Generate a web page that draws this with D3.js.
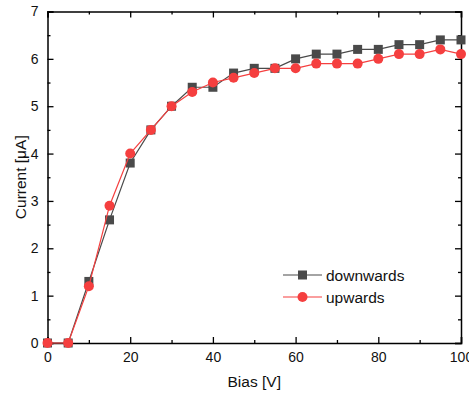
<!DOCTYPE html>
<html><head><meta charset="utf-8">
<script src="https://cdn.jsdelivr.net/npm/d3@7"></script>
<style>body{margin:0;background:#fff}svg{display:block}text{font-family:"Liberation Sans",Arial,sans-serif}</style>
</head><body><svg id="c" width="469" height="394"></svg>
<script>
const bias = [0,5,10,15,20,25,30,35,40,45,50,55,60,65,70,75,80,85,90,95,100];
const downwards = [0,0,1.3,2.6,3.8,4.5,5.0,5.4,5.4,5.7,5.8,5.8,6.0,6.1,6.1,6.2,6.2,6.3,6.3,6.4,6.4];
const upwards = [0,0,1.2,2.9,4.0,4.5,5.0,5.3,5.5,5.6,5.7,5.8,5.8,5.9,5.9,5.9,6.0,6.1,6.1,6.2,6.1];
const xTicks = [0,20,40,60,80,100];
const yTicks = [0,1,2,3,4,5,6,7];
const seriesNames = ["downwards","upwards"];

const svg = d3.select("#c");
const L=47.5, R=461, T=11.5, B=343;
const x = d3.scaleLinear().domain([0,100]).range([L,R]);
const y = d3.scaleLinear().domain([0,7]).range([B,T]);
const gray="#4a4a4a", red="#f53f3f";

const minorX = d3.range(0,101,10), minorY = d3.range(0,7.01,0.5);
// bottom axis
svg.append("g").attr("transform",`translate(0,${B})`)
  .call(d3.axisBottom(x).tickValues(xTicks).tickSize(-6).tickPadding(9).tickFormat(d3.format("d")));
svg.append("g").attr("transform",`translate(0,${B})`)
  .call(d3.axisBottom(x).tickValues(minorX.filter(v=>v%20)).tickSize(-3).tickFormat(""))
  .select(".domain").remove();
// top axis
svg.append("g").attr("transform",`translate(0,${T})`)
  .call(d3.axisTop(x).tickValues(xTicks).tickSize(-6).tickFormat(""));
svg.append("g").attr("transform",`translate(0,${T})`)
  .call(d3.axisTop(x).tickValues(minorX.filter(v=>v%20)).tickSize(-3).tickFormat(""))
  .select(".domain").remove();
// left axis
svg.append("g").attr("transform",`translate(${L},0)`)
  .call(d3.axisLeft(y).tickValues(yTicks).tickSize(-6).tickPadding(9).tickFormat(d3.format("d")));
svg.append("g").attr("transform",`translate(${L},0)`)
  .call(d3.axisLeft(y).tickValues(minorY.filter(v=>v%1)).tickSize(-3).tickFormat(""))
  .select(".domain").remove();
// right axis
svg.append("g").attr("transform",`translate(${R},0)`)
  .call(d3.axisRight(y).tickValues(yTicks).tickSize(-6).tickFormat(""));
svg.append("g").attr("transform",`translate(${R},0)`)
  .call(d3.axisRight(y).tickValues(minorY.filter(v=>v%1)).tickSize(-3).tickFormat(""))
  .select(".domain").remove();

svg.selectAll(".domain").attr("stroke","#000").attr("stroke-width",1.5);
svg.selectAll(".tick line").attr("stroke","#000").attr("stroke-width",1.3);
svg.selectAll(".tick text").attr("font-size",14).attr("fill","#111").attr("font-family","Liberation Sans, Arial, sans-serif");

const line = d3.line().x((d,i)=>x(bias[i])).y(d=>y(d));
svg.append("path").datum(downwards).attr("d",line).attr("fill","none").attr("stroke",gray).attr("stroke-width",1.2);
svg.selectAll(".sq").data(downwards).enter().append("rect")
  .attr("x",(d,i)=>x(bias[i])-4.5).attr("y",d=>y(d)-4.5).attr("width",9).attr("height",9).attr("fill",gray);
svg.append("path").datum(upwards).attr("d",line).attr("fill","none").attr("stroke",red).attr("stroke-width",1.2);
svg.selectAll(".ci").data(upwards).enter().append("circle")
  .attr("cx",(d,i)=>x(bias[i])).attr("cy",d=>y(d)).attr("r",5).attr("fill",red);

// legend
const lg = svg.append("g");
[[gray,"sq"],[red,"ci"]].forEach(([c,m],i)=>{
  const yy = 275 + i*22;
  lg.append("line").attr("x1",283).attr("x2",322).attr("y1",yy).attr("y2",yy).attr("stroke",c).attr("stroke-width",1.2);
  if(m==="sq") lg.append("rect").attr("x",302.5-4.5).attr("y",yy-4.5).attr("width",9).attr("height",9).attr("fill",c);
  else lg.append("circle").attr("cx",302.5).attr("cy",yy).attr("r",5).attr("fill",c);
  lg.append("text").attr("x",326).attr("y",yy+5.5).attr("font-size",15.5).attr("fill","#111").text(seriesNames[i]);
});

svg.append("text").attr("x",(L+R)/2).attr("y",387).attr("text-anchor","middle").attr("font-size",15.5).attr("fill","#111").text("Bias [V]");
svg.append("text").attr("transform",`translate(26,${(T+B)/2}) rotate(-90)`).attr("text-anchor","middle").attr("font-size",15.5).attr("fill","#111").text("Current [μA]");
</script></body></html>
